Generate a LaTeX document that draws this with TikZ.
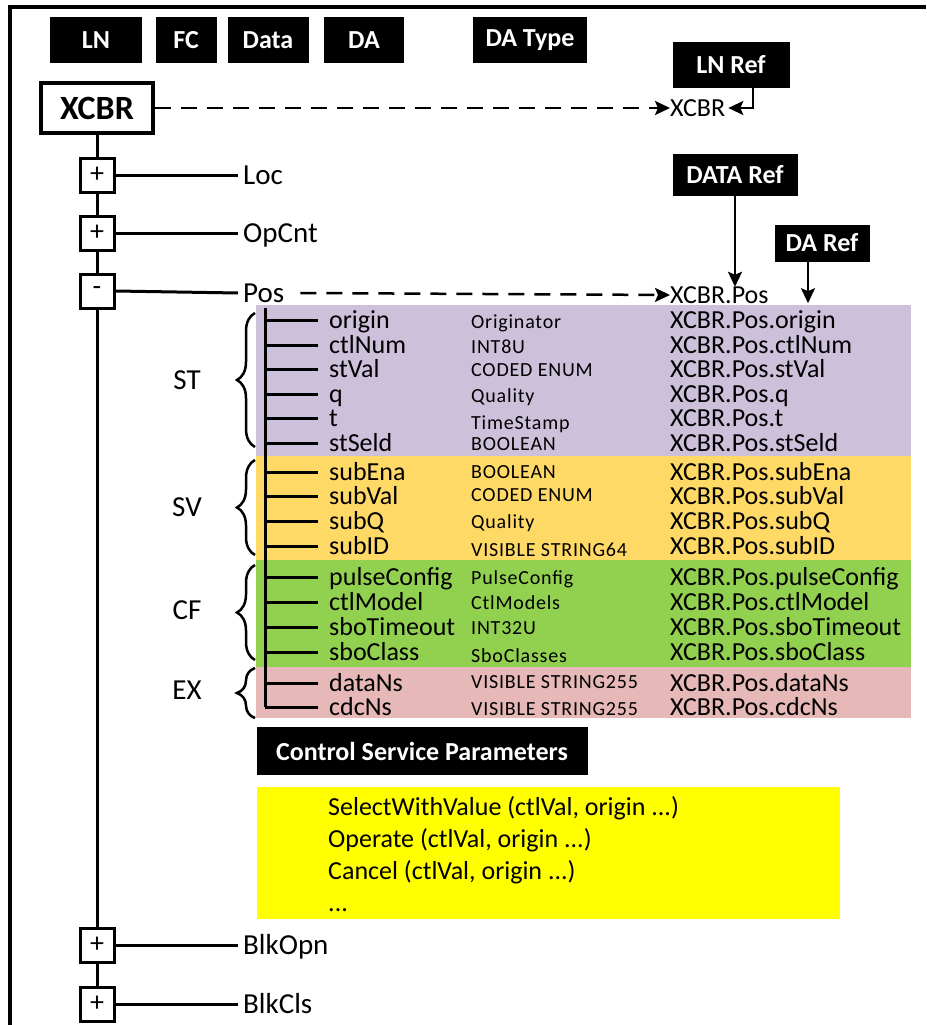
\documentclass[tikz,border=0pt]{standalone}
\usepackage{fontspec}
\setmainfont{Carlito}
\newfontfamily\typefont[LetterSpace=4]{Carlito}
\usetikzlibrary{positioning,arrows.meta,decorations.pathreplacing,calc}

\definecolor{stcol}{HTML}{CCC0DA}
\definecolor{svcol}{HTML}{FFD966}
\definecolor{cfcol}{HTML}{92D050}
\definecolor{excol}{HTML}{E6B8B7}
\definecolor{cspcol}{HTML}{FFFF00}

\tikzset{
  hdr/.style={fill=black, text=white, font=\bfseries\fontsize{26}{28}\selectfont, inner sep=0pt, minimum height=46pt},
  tbox/.style={draw, line width=3pt, fill=white, minimum size=34pt, inner sep=0pt, font=\fontsize{28}{30}\selectfont},
  lbl/.style={anchor=west, inner sep=0pt, font=\fontsize{29}{30}\selectfont, text height=18pt, text depth=0pt},
  nm/.style={anchor=west, inner sep=0pt, font=\fontsize{26}{28}\selectfont, text height=16pt, text depth=0pt},
  ty/.style={anchor=west, inner sep=0pt, font=\typefont\fontsize{20}{22}\selectfont, text height=12pt, text depth=0pt},
  fclbl/.style={inner sep=0pt, font=\fontsize{29}{30}\selectfont},
  tree/.style={line width=3pt},
  arr/.style={line width=2.5pt, -{Stealth[length=15pt,width=14pt,inset=3pt]}},
  dasharr/.style={arr, dash pattern=on 16pt off 10pt},
  fcbrace/.style={line width=2.5pt, decorate, decoration={brace, amplitude=18pt}}
}

\begin{document}
\begin{tikzpicture}[x=1pt, y=-1pt]
    \useasboundingbox (0,0) rectangle (926,1025);
    % Frame
    \draw[line width=4pt] (10,1025) -- (10,7) -- (926,7);

    % Header boxes
    \node[hdr, minimum width=92pt] (hLN) at (96,40) {LN};
    \node[hdr, minimum width=61pt] (hFC) at (186,40) {FC};
    \node[hdr, minimum width=81pt] (hData) at (268,40) {Data};
    \node[hdr, minimum width=80pt] (hDA) at (364,40) {DA};
    \node[hdr, minimum width=114pt] (hType) at (530,40) {DA Type};

    % Logical node
    \node[draw, line width=3.5pt, minimum width=112pt, minimum height=50pt, inner sep=0pt,
          font=\bfseries\fontsize{34}{36}\selectfont] (xcbr) at (97,108) {XCBR};
    \node[nm] (lnxcbr) at (670,108) {XCBR};
    \node[hdr, minimum width=117pt] (lnref) at (731,65) {LN Ref};
    \draw[dasharr] (xcbr.east) -- (lnxcbr.west);
    \draw[arr] ([xshift=22pt]lnref.south) |- ([xshift=3pt]lnxcbr.east);

    % Data objects
    \node[tbox] (bLoc) at (97,175) {+};
    \node[tbox] (bOp) at (97,233) {+};
    \node[tbox] (bPos) at (97,291) {-};
    \node[tbox] (bOpn) at (97,945) {+};
    \node[tbox] (bCls) at (97,1004) {+};
    \node[lbl] (loc) at (243,175) {Loc};
    \node[lbl] (opcnt) at (243,233) {OpCnt};
    \node[lbl] (pos) at (243,293) {Pos};
    \node[lbl] (blkopn) at (243,945) {BlkOpn};
    \node[lbl] (blkcls) at (243,1004) {BlkCls};
    \draw[tree] (xcbr.south) -- (bLoc.north) (bLoc.south) -- (bOp.north)
        (bOp.south) -- (bPos.north) (bPos.south) -- (bOpn.north) (bOpn.south) -- (bCls.north);
    \foreach \b/\l in {bLoc/loc, bOp/opcnt, bPos/pos, bOpn/blkopn, bCls/blkcls}
        \draw[tree] (\b.east) -- ([xshift=-5pt]\l.west);

    % Data refs
    \node[nm] (posref) at (670,295) {XCBR.Pos};
    \node[hdr, minimum width=125pt, minimum height=42pt] (dataref) at (735,175) {DATA Ref};
    \node[hdr, minimum width=95pt, minimum height=37pt] (daref) at (822,243) {DA Ref};
    \draw[dasharr] ([xshift=16pt]pos.east) -- (posref.west);
    \draw[arr] (dataref.south) -- (dataref.south |- posref.north);
    \draw[arr] ([xshift=-14pt]daref.south) -- ([xshift=-14pt]daref.south |- posref.south);

    % Functional constraint bands
    \fill[stcol] (256,305) rectangle (911,456);
    \fill[svcol] (256,456) rectangle (911,560);
    \fill[cfcol] (256,560) rectangle (911,667);
    \fill[excol] (256,667) rectangle (911,718);

    % Data attributes
    \foreach \n/\t/\y/\ty in {origin/Originator/320/322, ctlNum/INT8U/345/347,
        stVal/CODED ENUM/369/370, q/Quality/394/396, t/TimeStamp/418/423,
        stSeld/BOOLEAN/443/444, subEna/BOOLEAN/472/472, subVal/CODED ENUM/496/495,
        subQ/Quality/521/522, subID/VISIBLE STRING64/546/550,
        pulseConfig/PulseConfig/577/578, ctlModel/CtlModels/602/603,
        sboTimeout/INT32U/627/628, sboClass/SboClasses/652/656,
        dataNs/VISIBLE STRING255/683/682, cdcNs/VISIBLE STRING255/707/709} {
        \node[nm] (n-\n) at (329,\y) {\n};
        \node[ty] (t-\n) at (471,\ty) {\t};
        \node[nm] (r-\n) at (670,\y) {XCBR.Pos.\n};
        \draw[tree] (265,\y) -- ([xshift=-11pt]n-\n.west);
    }
    \draw[tree] (265,308) -- (265,707);

    % Braces
    \draw[fcbrace] (255,447) -- (255,313);
    \draw[fcbrace] (255,555) -- (255,460);
    \draw[fcbrace] (255,660) -- (255,565);
    \draw[fcbrace] (255,718) -- (255,668);
    \node[fclbl] (fcST) at (187,380) {ST};
    \node[fclbl] (fcSV) at (187,507) {SV};
    \node[fclbl] (fcCF) at (187,610) {CF};
    \node[fclbl] (fcEX) at (187,690) {EX};

    % Control service parameters
    \node[hdr, minimum width=331pt, minimum height=48pt] (csp) at (422,751) {Control Service Parameters};
    \fill[cspcol] (257,787) rectangle (840,919);
    \node[inner sep=0pt, anchor=north west, align=left, font=\fontsize{26}{32}\selectfont] (csplist) at (328,796)
        {SelectWithValue (ctlVal, origin ...)\\ Operate (ctlVal, origin ...)\\ Cancel (ctlVal, origin ...)\\ ...};
\end{tikzpicture}
\end{document}
